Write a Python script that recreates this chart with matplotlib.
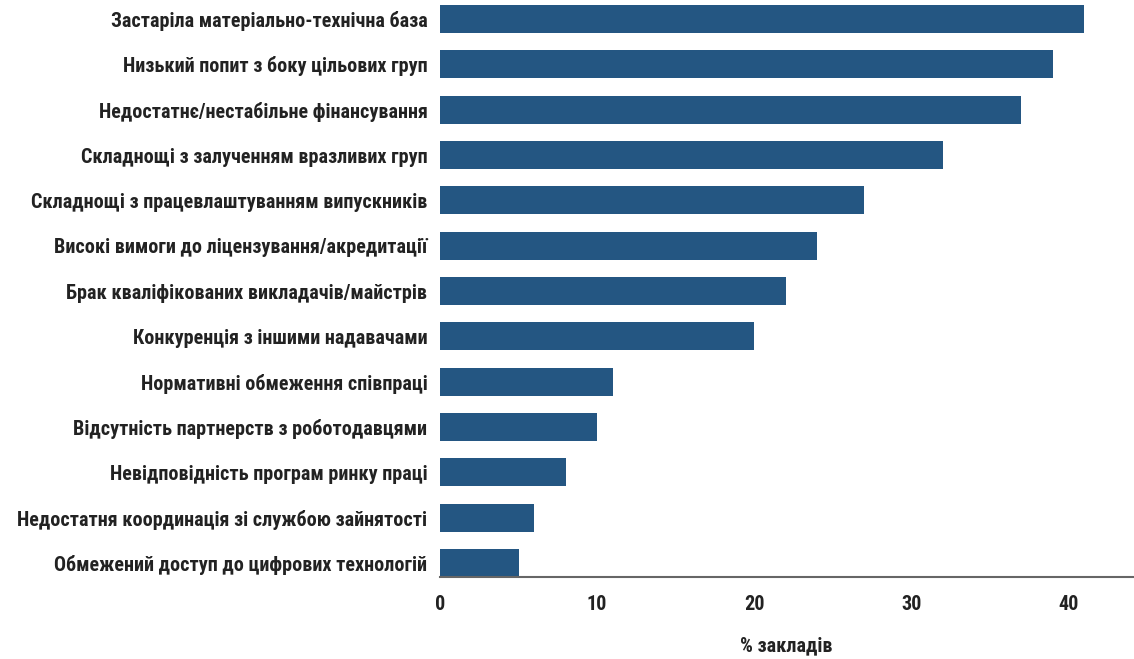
import matplotlib
matplotlib.use('Agg')
import matplotlib.pyplot as plt

categories = [
    'Застаріла матеріально-технічна база',
    'Низький попит з боку цільових груп',
    'Недостатнє/нестабільне фінансування',
    'Складнощі з залученням вразливих груп',
    'Складнощі з працевлаштуванням випускників',
    'Високі вимоги до ліцензування/акредитації',
    'Брак кваліфікованих викладачів/майстрів',
    'Конкуренція з іншими надавачами',
    'Нормативні обмеження співпраці',
    'Відсутність партнерств з роботодавцями',
    'Невідповідність програм ринку праці',
    'Недостатня координація зі службою зайнятості',
    'Обмежений доступ до цифрових технологій',
]
values = [41, 39, 37, 32, 27, 24, 22, 20, 11, 10, 8, 6, 5]
xticks = [0, 10, 20, 30, 40]

# вузький шрифт, схожий на Arial Narrow
plt.rcParams['font.family'] = ['Roboto Condensed', 'Liberation Sans', 'DejaVu Sans']
plt.rcParams['font.weight'] = 'bold'
FS = 14.5

fig = plt.figure(figsize=(11.34, 6.59), dpi=100)
ax = fig.add_axes([0.388, 0.1244, 0.611, 0.8756])

# знизу вгору
cats = categories[::-1]
vals = values[::-1]
ax.barh(range(len(cats)), vals, height=0.62, color='#245682')

ax.set_yticks(range(len(cats)))
ax.set_yticklabels(cats, fontsize=FS, fontweight='bold', color='#222222')
ax.set_xticks(xticks)
ax.set_xticklabels([str(t) for t in xticks], fontsize=FS, fontweight='bold', color='#222222')
ax.tick_params(axis='both', length=0)
ax.tick_params(axis='y', pad=9)
ax.tick_params(axis='x', pad=13)
ax.set_xlim(0, 44.1)
ax.set_ylim(-0.31, 12.42)

ax.set_xlabel('% закладів', fontsize=FS, fontweight='bold', color='#222222', labelpad=16)

for s in ['top', 'right', 'left']:
    ax.spines[s].set_visible(False)
ax.spines['bottom'].set_color('#666666')
ax.spines['bottom'].set_linewidth(1.5)

fig.savefig('out.png', dpi=100)
